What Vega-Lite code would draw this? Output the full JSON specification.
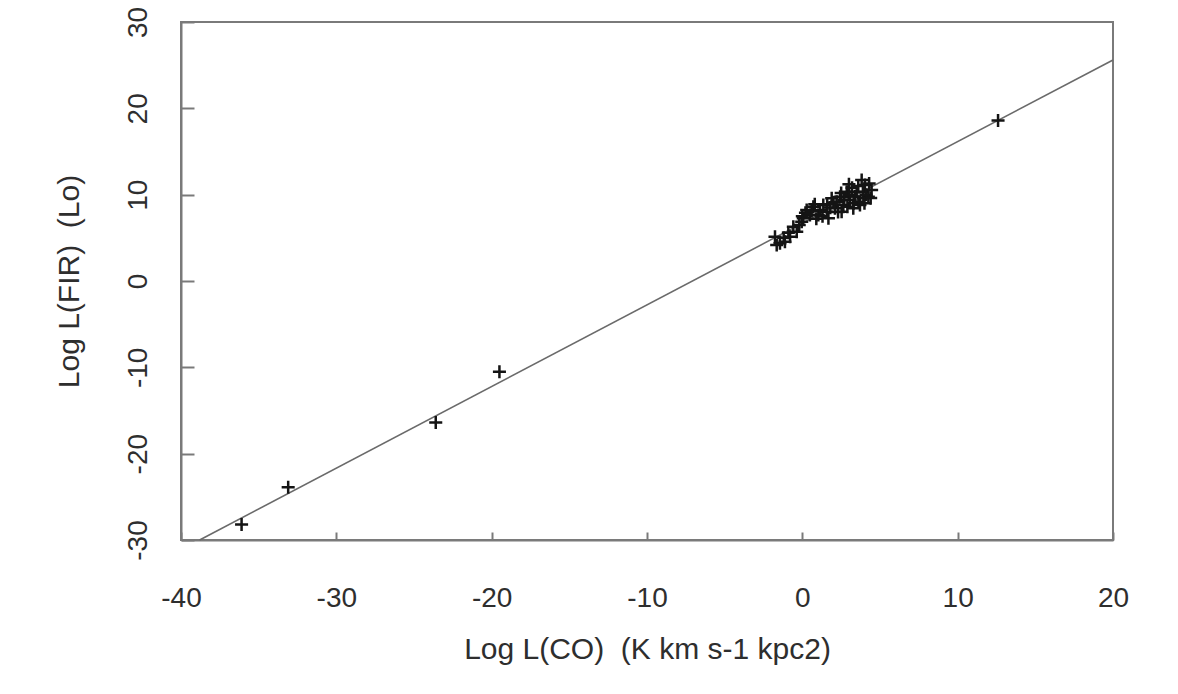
{
  "$schema": "https://vega.github.io/schema/vega-lite/v6.json",
  "width": 932,
  "height": 518,
  "autosize": {"type": "none"},
  "padding": {"left": 181, "top": 22, "right": 65, "bottom": 154},
  "background": "white",
  "config": {
    "view": {"stroke": "#7a7a7a", "strokeWidth": 2},
    "font": "Liberation Sans"
  },
  "datasets": {
    "fit": [
      {"logCO": -38.8, "logFIR": -30.0},
      {"logCO": 20.0, "logFIR": 25.6}
    ],
    "galaxies": [
      {"logCO": -36.1, "logFIR": -28.2},
      {"logCO": -33.1, "logFIR": -23.9},
      {"logCO": -23.6, "logFIR": -16.4},
      {"logCO": -19.5, "logFIR": -10.5},
      {"logCO": 12.6, "logFIR": 18.6},
      {"logCO": -1.44, "logFIR": 4.37},
      {"logCO": -1.76, "logFIR": 5.13},
      {"logCO": -0.79, "logFIR": 5.13},
      {"logCO": -0.58, "logFIR": 6.29},
      {"logCO": -0.04, "logFIR": 6.87},
      {"logCO": 0.49, "logFIR": 7.64},
      {"logCO": 0.28, "logFIR": 8.22},
      {"logCO": 1.03, "logFIR": 7.64},
      {"logCO": 1.57, "logFIR": 8.03},
      {"logCO": 2.10, "logFIR": 8.42},
      {"logCO": 1.35, "logFIR": 8.80},
      {"logCO": 1.89, "logFIR": 9.58},
      {"logCO": 2.43, "logFIR": 9.77},
      {"logCO": 2.64, "logFIR": 8.80},
      {"logCO": 3.07, "logFIR": 9.38},
      {"logCO": 3.50, "logFIR": 10.34},
      {"logCO": 3.71, "logFIR": 8.80},
      {"logCO": 4.03, "logFIR": 11.12},
      {"logCO": 4.25, "logFIR": 9.77},
      {"logCO": 3.82, "logFIR": 11.70},
      {"logCO": 4.46, "logFIR": 10.54},
      {"logCO": 2.86, "logFIR": 10.34},
      {"logCO": 3.28, "logFIR": 8.42},
      {"logCO": 0.71, "logFIR": 8.61},
      {"logCO": 2.21, "logFIR": 9.19},
      {"logCO": -0.36, "logFIR": 5.71},
      {"logCO": 0.06, "logFIR": 7.26},
      {"logCO": 1.68, "logFIR": 7.26},
      {"logCO": 1.14, "logFIR": 8.22},
      {"logCO": 2.53, "logFIR": 8.03},
      {"logCO": 3.93, "logFIR": 9.58},
      {"logCO": 3.61, "logFIR": 9.19},
      {"logCO": -1.12, "logFIR": 4.55},
      {"logCO": -1.65, "logFIR": 4.17},
      {"logCO": 0.2, "logFIR": 7.9},
      {"logCO": 0.6, "logFIR": 8.1},
      {"logCO": 0.9, "logFIR": 7.2},
      {"logCO": 1.3, "logFIR": 7.5},
      {"logCO": 1.8, "logFIR": 8.5},
      {"logCO": 2.0, "logFIR": 9.1},
      {"logCO": 2.3, "logFIR": 8.0},
      {"logCO": 2.7, "logFIR": 9.4},
      {"logCO": 3.0, "logFIR": 10.0},
      {"logCO": 3.2, "logFIR": 10.8},
      {"logCO": 3.4, "logFIR": 9.8},
      {"logCO": 3.6, "logFIR": 11.0},
      {"logCO": 3.9, "logFIR": 10.3},
      {"logCO": 4.1, "logFIR": 10.0},
      {"logCO": 4.3, "logFIR": 11.3},
      {"logCO": 3.3, "logFIR": 9.0},
      {"logCO": 2.9, "logFIR": 8.6},
      {"logCO": 1.6, "logFIR": 8.9},
      {"logCO": 2.5, "logFIR": 10.2},
      {"logCO": 4.4, "logFIR": 9.6},
      {"logCO": 0.0, "logFIR": 7.5},
      {"logCO": -0.2, "logFIR": 6.5},
      {"logCO": -0.9, "logFIR": 5.6},
      {"logCO": -1.2, "logFIR": 5.0},
      {"logCO": 0.8, "logFIR": 8.9},
      {"logCO": 3.0, "logFIR": 11.2},
      {"logCO": 4.0, "logFIR": 9.0}
    ]
  },
  "layer": [
    {
      "data": {"name": "fit"},
      "mark": {"type": "line", "color": "#6a6a6a", "strokeWidth": 1.6},
      "encoding": {
        "x": {
          "field": "logCO",
          "type": "quantitative",
          "scale": {"domain": [-40, 20], "nice": false, "zero": false},
          "axis": {
            "title": "Log L(CO)\u00a0 (K km s-1 kpc2)",
            "values": [-40, -30, -20, -10, 0, 10, 20],
            "labelExpr": "'' + datum.value",
            "grid": false,
            "labelFlush": false,
            "domainColor": "#7a7a7a",
            "domainWidth": 2,
            "tickColor": "#7a7a7a",
            "tickWidth": 2,
            "tickSize": -8,
            "labelFontSize": 28,
            "labelColor": "#2e2e2e",
            "labelPadding": 52,
            "titleFontSize": 30,
            "titleFontWeight": "normal",
            "titleColor": "#2e2e2e",
            "titlePadding": 22
          }
        },
        "y": {
          "field": "logFIR",
          "type": "quantitative",
          "scale": {"domain": [-30, 30], "nice": false, "zero": false},
          "axis": {
            "title": "Log L(FIR)\u00a0 (Lo)",
            "values": [-30, -20, -10, 0, 10, 20, 30],
            "labelExpr": "'' + datum.value",
            "grid": false,
            "labelFlush": false,
            "domainColor": "#7a7a7a",
            "domainWidth": 2,
            "tickColor": "#7a7a7a",
            "tickWidth": 2,
            "tickSize": -13,
            "labelAngle": 270,
            "labelAlign": "center",
            "labelBaseline": "alphabetic",
            "labelFontSize": 28,
            "labelColor": "#2e2e2e",
            "labelPadding": 48,
            "titleFontSize": 30,
            "titleFontWeight": "normal",
            "titleColor": "#2e2e2e",
            "titlePadding": 40
          }
        }
      }
    },
    {
      "data": {"name": "galaxies"},
      "mark": {
        "type": "point",
        "shape": "M-1,0H1M0,-1V1",
        "filled": false,
        "stroke": "#141414",
        "strokeWidth": 2.5,
        "size": 170,
        "opacity": 1
      },
      "encoding": {
        "x": {"field": "logCO", "type": "quantitative"},
        "y": {"field": "logFIR", "type": "quantitative"}
      }
    }
  ]
}
